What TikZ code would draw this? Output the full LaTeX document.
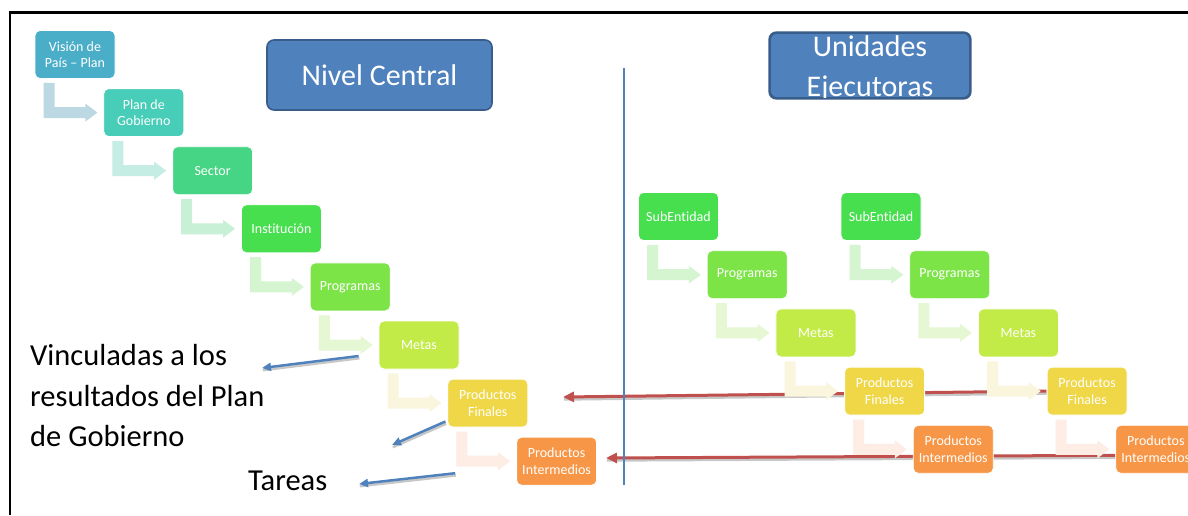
\documentclass[tikz,border=0pt]{standalone}
\usepackage{fontspec}
\setmainfont{Carlito}[Ligatures={TeX,NoCommon}]
\usetikzlibrary{arrows.meta,calc}

\pgfdeclarelayer{back}
\pgfdeclarelayer{mid}
\pgfsetlayers{back,mid,main}

% stage colours of the cascade
\definecolor{c1}{HTML}{4AAEC9}
\definecolor{c2}{HTML}{47CDB8}
\definecolor{c3}{HTML}{46D585}
\definecolor{c4}{HTML}{47DF4E}
\definecolor{c5}{HTML}{7DE448}
\definecolor{c6}{HTML}{C3EB47}
\definecolor{c7}{HTML}{EFD748}
\definecolor{c8}{HTML}{F79646}
% pale bent connectors
\definecolor{p1}{HTML}{BCD8E2}
\definecolor{p2}{HTML}{C5EDE3}
\definecolor{p3}{HTML}{C8F0D6}
\definecolor{p4}{HTML}{D5F5D0}
\definecolor{p5}{HTML}{E6F7D4}
\definecolor{p6}{HTML}{FAF6DE}
\definecolor{p7}{HTML}{FDEDE5}
% headers and links
\definecolor{hdrblue}{HTML}{4F81BD}
\definecolor{hdredge}{HTML}{385D8A}
\definecolor{linkblue}{HTML}{4F81BD}
\definecolor{linkred}{HTML}{C0504D}

\tikzset{
  stage/.style={rectangle, rounded corners=5pt, fill=#1, draw=white,
    line width=0.8pt, minimum width=80pt, minimum height=48pt, inner sep=1pt,
    text=white, align=center, font=\fontsize{14}{16.5}\selectfont},
  header/.style={rectangle, rounded corners=7pt, fill=hdrblue, draw=hdredge,
    line width=1.6pt, text=white, font=\fontsize{30}{40}\selectfont},
  note/.style={font=\fontsize{30.5}{40.5}\selectfont, align=left, text=black, inner sep=0pt},
  redlink/.style={draw=linkred, line width=3pt, -{Triangle[length=11pt,width=10pt]}},
  bluelink/.style={draw=linkblue, line width=2.5pt, -{Triangle[length=9pt,width=8pt]}},
  linkshadow/.style={draw=black, opacity=0.22, line width=3pt,
    transform canvas={xshift=0.8pt,yshift=-2.2pt}},
}

% bent arrow from the lower left of one stage into the left side of the next
\newcommand{\bentlink}[3]{%
  \fill[#3] let \p1=(#1.south west), \p2=(#2.west) in
    (\x1+9pt,\y1-4pt) -- (\x1+20pt,\y1-4pt) -- (\x1+20pt,\y2+5.5pt)
    -- (\x2-18pt,\y2+5.5pt) -- (\x2-18pt,\y2+9pt) -- (\x2-6pt,\y2)
    -- (\x2-18pt,\y2-9pt) -- (\x2-18pt,\y2-5.5pt) -- (\x1+9pt,\y2-5.5pt) -- cycle;}

\begin{document}
\begin{tikzpicture}[x=1pt,y=-1pt]
\useasboundingbox (0,0) rectangle (1188,515);
\clip (0,0) rectangle (1188,515);
\begin{pgfonlayer}{back}
  \fill[white] (0,0) rectangle (1188,515);
\end{pgfonlayer}

% outer frame
\draw[black, line width=2.5pt] (10,515) -- (10,12.5) -- (1190,12.5);

% central cascade
\node[stage=c1] (vision) at (75,54.5)    {Visión de\\País – Plan};
\node[stage=c2] (plan)   at (143.8,112.6) {Plan de\\Gobierno};
\node[stage=c3] (sector) at (212.6,170.7) {Sector};
\node[stage=c4] (inst)   at (281.4,228.8) {Institución};
\node[stage=c5] (prog)   at (350.2,286.9) {Programas};
\node[stage=c6] (metas)  at (419,345)     {Metas};
\node[stage=c7] (pfin)   at (487.8,403.1) {Productos\\Finales};
\node[stage=c8] (pint)   at (556.6,461.2) {Productos\\Intermedios};

% first executing unit
\node[stage=c4] (subA)   at (678.5,216.5) {SubEntidad};
\node[stage=c5] (progA)  at (747.2,274.7) {Programas};
\node[stage=c6] (metasA) at (815.9,332.9) {Metas};
\node[stage=c7] (pfinA)  at (884.6,391.1) {Productos\\Finales};
\node[stage=c8] (pintA)  at (953.3,449.3) {Productos\\Intermedios};

% second executing unit
\node[stage=c4] (subB)   at (881,216.5)    {SubEntidad};
\node[stage=c5] (progB)  at (949.7,274.7)  {Programas};
\node[stage=c6] (metasB) at (1018.4,332.9) {Metas};
\node[stage=c7] (pfinB)  at (1087.1,391.1) {Productos\\Finales};
\node[stage=c8] (pintB)  at (1155.8,449.3) {Productos\\Intermedios};

% headers
\node[header, minimum width=225pt, minimum height=70pt] (central) at (379.5,75) {Nivel Central};
\node[header, minimum width=200pt, minimum height=65pt] (units) at (870,65.5) {};
\begin{scope}
  \clip[rounded corners=7pt] (units.south west) rectangle (units.north east);
  \node[text=white, align=center, font=\fontsize{30}{40}\selectfont] (unitstext) at (870,69) {Unidades\\Ejecutoras};
\end{scope}
\draw[hdredge, line width=1.6pt, rounded corners=7pt] (units.south west) rectangle (units.north east);

% divider between the two levels
\coordinate (divtop) at (624,68);
\coordinate (divbot) at (624,485);
\draw[linkblue, line width=1.2pt] (divtop) -- (divbot);

% side notes
\node[note, anchor=west] (vinc) at (30,396) {Vinculadas a los\\resultados del Plan\\de Gobierno};
\node[note, anchor=west] (tareas) at (248,481) {Tareas};

% pale bent connectors
\begin{pgfonlayer}{mid}
  \bentlink{vision}{plan}{p1}
  \bentlink{plan}{sector}{p2}
  \bentlink{sector}{inst}{p3}
  \bentlink{inst}{prog}{p4}
  \bentlink{prog}{metas}{p5}
  \bentlink{metas}{pfin}{p6}
  \bentlink{pfin}{pint}{p7}
  \bentlink{subA}{progA}{p4}
  \bentlink{progA}{metasA}{p5}
  \bentlink{metasA}{pfinA}{p6}
  \bentlink{pfinA}{pintA}{p7}
  \bentlink{subB}{progB}{p4}
  \bentlink{progB}{metasB}{p5}
  \bentlink{metasB}{pfinB}{p6}
  \bentlink{pfinB}{pintB}{p7}
\end{pgfonlayer}

% links from the executing units back to the central level
\coordinate (tipF) at (563,397);
\coordinate (tipI) at (606,458);
\begin{pgfonlayer}{back}
  \draw[linkshadow] (pfinB.west) -- (tipF);
  \draw[linkshadow] ($(pintB.west)+(0,6)$) -- (tipI);
  \draw[redlink] (pfinB.west) -- (tipF);
  \draw[redlink] ($(pintB.west)+(0,6)$) -- (tipI);
\end{pgfonlayer}

% pointers to the side notes
\coordinate (tipV) at (262,368);
\coordinate (tipG) at (392,445);
\coordinate (tipT) at (359,484);
\draw[linkshadow, line width=2.5pt] ($(metas.west)+(-20,11)$) -- (tipV);
\draw[linkshadow, line width=2.5pt] ($(pfin.south west)+(-2,-6)$) -- (tipG);
\draw[linkshadow, line width=2.5pt] ($(pint.west)+(-61,12)$) -- (tipT);
\draw[bluelink] ($(metas.west)+(-20,11)$) -- (tipV);
\draw[bluelink] ($(pfin.south west)+(-2,-6)$) -- (tipG);
\draw[bluelink] ($(pint.west)+(-61,12)$) -- (tipT);
\end{tikzpicture}
\end{document}
